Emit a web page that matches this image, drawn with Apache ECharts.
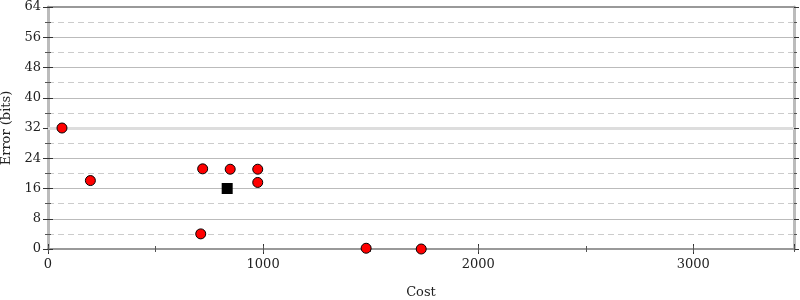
<!DOCTYPE html>
<html>
<head>
<meta charset="utf-8">
<script src="https://cdn.jsdelivr.net/npm/echarts@6/dist/echarts.min.js"></script>
<style>html,body{margin:0;padding:0;background:#fff}#c{width:800px;height:300px}</style>
</head>
<body>
<div id="c"></div>
<script>
// Data
var costs = [65, 197, 719, 847, 975, 975, 710, 1479, 1735];
var errors = [32.0, 18.1, 21.2, 21.1, 21.1, 17.6, 4.0, 0.2, 0.0];
var highlightCost = [833];
var highlightError = [16.0];
var referenceLine = [32];
var xTicks = [0, 1000, 2000, 3000];
var yTicks = [0, 8, 16, 24, 32, 40, 48, 56, 64];

var FONT = 'DejaVu Serif';
var xMax = 3468;

var pts = costs.map(function (c, i) { return [c, errors[i]]; });
var hl = highlightCost.map(function (c, i) { return [c, highlightError[i]]; });

function xAx(o) {
  return Object.assign({
    type: 'value', min: 0, max: xMax, position: 'bottom',
    axisLine: { show: false }, axisTick: { show: false }, axisLabel: { show: false },
    splitLine: { show: false }
  }, o);
}
function yAx(o) {
  return Object.assign({
    type: 'value', min: 0, max: 64, interval: 8, position: 'left',
    axisLine: { show: false }, axisTick: { show: false }, axisLabel: { show: false },
    splitLine: { show: false }
  }, o);
}
var tickStyle = { color: '#333', width: 1 };
var minorStyle = { color: '#555', width: 1 };

var option = {
  animation: false,
  grid: { left: 48, right: 6, top: 7, bottom: 51, containLabel: false, outerBoundsMode: 'none' },
  xAxis: [
    xAx({
      interval: 1000,
      name: 'Cost', nameLocation: 'middle', nameGap: 37,
      nameTextStyle: { fontFamily: FONT, fontSize: 13, color: '#222' },
      axisLine: { show: true, onZero: false, lineStyle: { color: '#999', width: 2 } },
      axisTick: { show: true, length: 5, lineStyle: tickStyle },
      axisLabel: {
        show: true, margin: 9, fontFamily: FONT, fontSize: 13, color: '#222',
        showMaxLabel: false,
        formatter: function (v) { return xTicks.indexOf(v) >= 0 ? String(v) : ''; }
      }
    }),
    xAx({ interval: 1000, axisTick: { show: true, inside: true, length: 5, lineStyle: tickStyle } }),
    xAx({ interval: 500, axisTick: { show: true, length: 3, lineStyle: minorStyle } }),
    xAx({ interval: 500, axisTick: { show: true, inside: true, length: 3, lineStyle: minorStyle } }),
    xAx({ interval: 1000, position: 'top', axisLine: { show: true, onZero: false, lineStyle: { color: '#999', width: 2 } } })
  ],
  yAxis: [
    yAx({
      name: 'Error (bits)', nameLocation: 'middle', nameGap: 33,
      nameTextStyle: { fontFamily: FONT, fontSize: 13, color: '#222' },
      axisLine: { show: true, onZero: false, lineStyle: { color: '#bbb', width: 3 } },
      axisTick: { show: true, length: 5, lineStyle: tickStyle },
      minorTick: { show: true, splitNumber: 2, length: 3, lineStyle: minorStyle },
      axisLabel: {
        show: true, margin: 7, fontFamily: FONT, fontSize: 13, color: '#222',
        formatter: function (v) { return yTicks.indexOf(v) >= 0 ? String(v) : ''; }
      },
      splitLine: { show: true, lineStyle: { color: '#bbb', width: 1 } },
      minorSplitLine: { show: true, lineStyle: { color: '#ccc', width: 1, type: [6, 4] } }
    }),
    yAx({
      axisTick: { show: true, inside: true, length: 5, lineStyle: tickStyle },
      minorTick: { show: true, splitNumber: 2, length: 3, lineStyle: minorStyle }
    }),
    yAx({
      position: 'right',
      axisLine: { show: true, onZero: false, lineStyle: { color: '#bbb', width: 3 } },
      axisTick: { show: true, length: 5, lineStyle: tickStyle },
      minorTick: { show: true, splitNumber: 2, length: 3, lineStyle: minorStyle }
    }),
    yAx({
      position: 'right',
      axisTick: { show: true, inside: true, length: 5, lineStyle: tickStyle },
      minorTick: { show: true, splitNumber: 2, length: 3, lineStyle: minorStyle }
    })
  ],
  series: [
    {
      type: 'line', data: [], z: 1, silent: true,
      markLine: {
        silent: true, symbol: 'none', animation: false,
        label: { show: false },
        lineStyle: { color: '#ddd', width: 3, type: 'solid' },
        data: referenceLine.map(function (v) { return { yAxis: v }; })
      }
    },
    {
      type: 'scatter', data: pts, z: 5,
      symbol: 'circle', symbolSize: 10,
      itemStyle: { color: '#ff0000', borderColor: '#000', borderWidth: 1, opacity: 1 }
    },
    {
      type: 'scatter', data: hl, z: 5,
      symbol: 'rect', symbolSize: 11,
      itemStyle: { color: '#000', borderColor: '#000', borderWidth: 0, opacity: 1 }
    }
  ]
};
echarts.init(document.getElementById('c'), null, { renderer: 'canvas' }).setOption(option);
</script>
</body>
</html>
